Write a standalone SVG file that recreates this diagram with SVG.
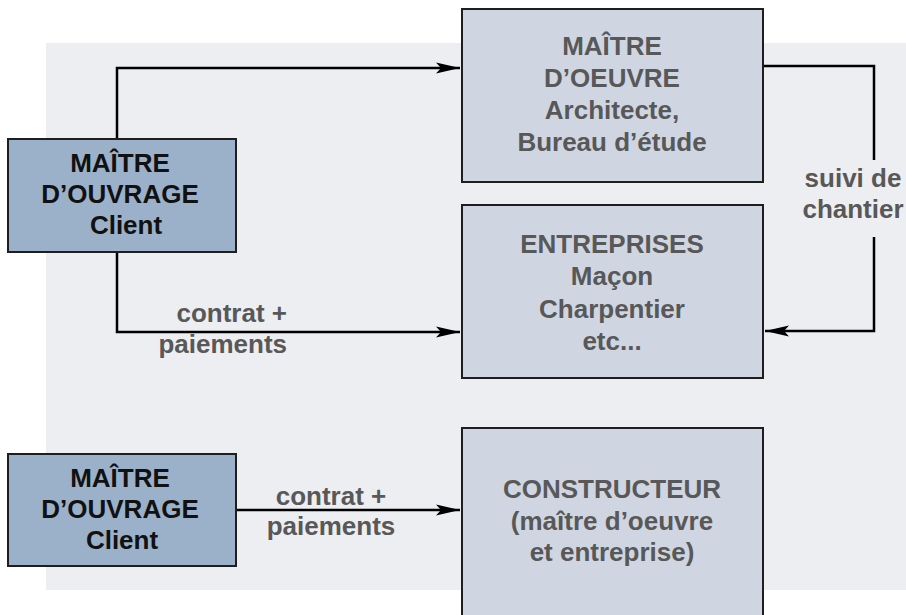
<svg xmlns="http://www.w3.org/2000/svg" width="906" height="615" viewBox="0 0 906 615">
  <style>
    text { font-family: "Liberation Sans", Arial, Helvetica, sans-serif; font-weight: bold; font-size: 26px; text-anchor: middle; }
    .dark { fill: #111111; }
    .grey { fill: #585858; }
    .client { fill: #9bb1c9; stroke: #1e1e1e; stroke-width: 2; }
    .box { fill: #cfd6e2; stroke: #1e1e1e; stroke-width: 2; }
    .conn { fill: none; stroke: #000000; stroke-width: 2.5; }
  </style>
  <defs>
    <marker id="arrow" markerUnits="userSpaceOnUse" markerWidth="24" markerHeight="14" refX="24" refY="7" orient="auto">
      <path d="M0,1.5 L24,7 L0,12.5 L5,7 Z" fill="#000000"/>
    </marker>
  </defs>

  <rect x="46" y="43" width="860" height="547" fill="#eceef2"/>

  <g id="connectors">
    <path class="conn" d="M117,139 V68 H460" marker-end="url(#arrow)"/>
    <path class="conn" d="M117,252 V332 H460" marker-end="url(#arrow)"/>
    <path class="conn" d="M763,66 H874 V160"/>
    <path class="conn" d="M874,237 V331 H765" marker-end="url(#arrow)"/>
    <path class="conn" d="M236,510 H460" marker-end="url(#arrow)"/>
    <text class="grey" x="287" y="322" style="text-anchor:end">contrat +</text>
    <text class="grey" x="287" y="353" style="text-anchor:end">paiements</text>
    <text class="grey" x="853" y="187">suivi de</text>
    <text class="grey" x="853" y="218">chantier</text>
    <text class="grey" x="331" y="505">contrat +</text>
    <text class="grey" x="331" y="535">paiements</text>
  </g>

  <g id="maitre-ouvrage-1">
    <rect class="client" x="8" y="139" width="228" height="113"/>
    <text class="dark" x="120" y="172">MAÎTRE</text>
    <text class="dark" x="120" y="203">D’OUVRAGE</text>
    <text class="dark" x="126" y="234">Client</text>
  </g>

  <g id="maitre-oeuvre">
    <rect class="box" x="462" y="9" width="301" height="173"/>
    <text class="grey" x="612" y="55">MAÎTRE</text>
    <text class="grey" x="612" y="87">D’OEUVRE</text>
    <text class="grey" x="612" y="119">Architecte,</text>
    <text class="grey" x="612" y="151">Bureau d’étude</text>
  </g>

  <g id="entreprises">
    <rect class="box" x="462" y="205" width="301" height="173"/>
    <text class="grey" x="612" y="253">ENTREPRISES</text>
    <text class="grey" x="612" y="285">Maçon</text>
    <text class="grey" x="612" y="318">Charpentier</text>
    <text class="grey" x="612" y="350">etc...</text>
  </g>

  <g id="maitre-ouvrage-2">
    <rect class="client" x="8" y="454" width="228" height="112"/>
    <text class="dark" x="120" y="487">MAÎTRE</text>
    <text class="dark" x="120" y="518">D’OUVRAGE</text>
    <text class="dark" x="122" y="549">Client</text>
  </g>

  <g id="constructeur">
    <rect class="box" x="462" y="428" width="301" height="200"/>
    <text class="grey" x="612" y="498">CONSTRUCTEUR</text>
    <text class="grey" x="612" y="530">(maître d’oeuvre</text>
    <text class="grey" x="612" y="561">et entreprise)</text>
  </g>
</svg>
